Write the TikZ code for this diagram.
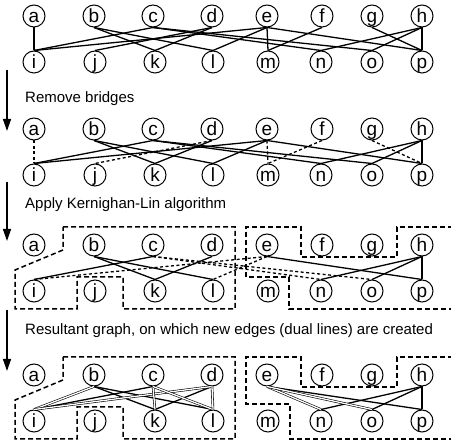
\documentclass[tikz,border=0pt]{standalone}
\usepackage{fontspec}
\setmainfont{Liberation Sans}
\usetikzlibrary{arrows.meta}
\begin{document}
\begin{tikzpicture}[x=1pt,y=1pt,
  vtx/.style={circle,draw,line width=1pt,minimum size=22pt,inner sep=0pt,
    text height=13.2pt,text depth=0pt,font=\fontsize{19}{19}\selectfont},
  edge/.style={line width=1.3pt},
  bridge/.style={line width=1.3pt,dash pattern=on 3pt off 2.5pt},
  dual/.style={double,line width=0.6pt,double distance=1.3pt},
  part/.style={line width=1.5pt,dash pattern=on 5pt off 3pt},
  arr/.style={line width=1.4pt,-{Triangle[length=12pt,width=8pt]}},
  lbl/.style={anchor=base west,inner sep=0pt,font=\fontsize{15}{18}\selectfont}]
\useasboundingbox (0,0) rectangle (451,-443);
% nodes of the four graphs
\foreach \g/\yt in {1/16,2/129,3/245,4/375} {
  \foreach \n/\x in {a/34,b/94,c/153,d/212,e/267,f/322,g/372,h/422}
    \node[vtx] (\n\g) at (\x,-\yt) {\n};
  \foreach \n/\x in {i/34,j/95,k/155,l/213,m/268,n/321,o/372,p/422}
    \node[vtx] (\n\g) at (\x,-\yt-46) {\n};
}
% graph 1
\foreach \u/\v in {a/i,b/k,b/l,c/i,c/n,c/o,d/j,d/k,e/i,e/l,e/m,e/p,f/m,g/p,h/n,h/o,h/p}
  \draw[edge] (\u1.south) -- (\v1.north);
% graph 2
\foreach \u/\v in {b/k,b/l,c/i,c/n,c/o,d/k,e/i,e/l,e/p,h/n,h/o,h/p}
  \draw[edge] (\u2.south) -- (\v2.north);
\foreach \u/\v in {a/i,d/j,e/m,f/m,g/p}
  \draw[bridge] (\u2.south) -- (\v2.north);
% graph 3
\foreach \u/\v in {b/k,b/l,c/i,d/k,e/p,h/n,h/o,h/p}
  \draw[edge] (\u3.south) -- (\v3.north);
\foreach \u/\v in {c/n,c/o,e/i,e/l}
  \draw[bridge] (\u3.south) -- (\v3.north);
% graph 4
\foreach \u/\v in {b/k,b/l,c/i,d/k,e/p,h/n,h/o,h/p}
  \draw[edge] (\u4.south) -- (\v4.north);
\foreach \u/\v in {b/i,d/i,c/k,c/l,d/l,e/n,e/o}
  \draw[dual] (\u4.south) -- (\v4.north);
% partitions graph 3
\draw[part] (63,-227) -- (235,-227) -- (235,-309) -- (123,-309) -- (123,-277) -- (77,-277)
  -- (77,-309) -- (15,-309) -- (15,-270) -- (63,-250) -- cycle;
\draw[part] (453,-227) -- (397,-227) -- (397,-257) -- (301,-257) -- (301,-227) -- (246,-227)
  -- (246,-277) -- (289,-277) -- (289,-309) -- (453,-309);
% partitions graph 4
\draw[part] (63,-357) -- (235,-357) -- (235,-439) -- (123,-439) -- (123,-407) -- (77,-407)
  -- (77,-439) -- (15,-439) -- (15,-400) -- (63,-380) -- cycle;
\draw[part] (453,-357) -- (397,-357) -- (397,-387) -- (301,-387) -- (301,-357) -- (246,-357)
  -- (246,-404) -- (290,-404) -- (290,-439) -- (453,-439);
% arrows
\coordinate (s1) at (7,-70);  \coordinate (t1) at (7,-131);
\coordinate (s2) at (7,-182); \coordinate (t2) at (7,-241);
\coordinate (s3) at (7,-310); \coordinate (t3) at (7,-371);
\draw[arr] (s1) -- (t1);
\draw[arr] (s2) -- (t2);
\draw[arr] (s3) -- (t3);
% labels
\node[lbl] (L1) at (25,-103) {Remove bridges};
\node[lbl] (L2) at (25,-209) {Apply Kernighan-Lin algorithm};
\node[lbl] (L3) at (25,-335) {Resultant graph, on which new edges (dual lines) are created};
\end{tikzpicture}
\end{document}
